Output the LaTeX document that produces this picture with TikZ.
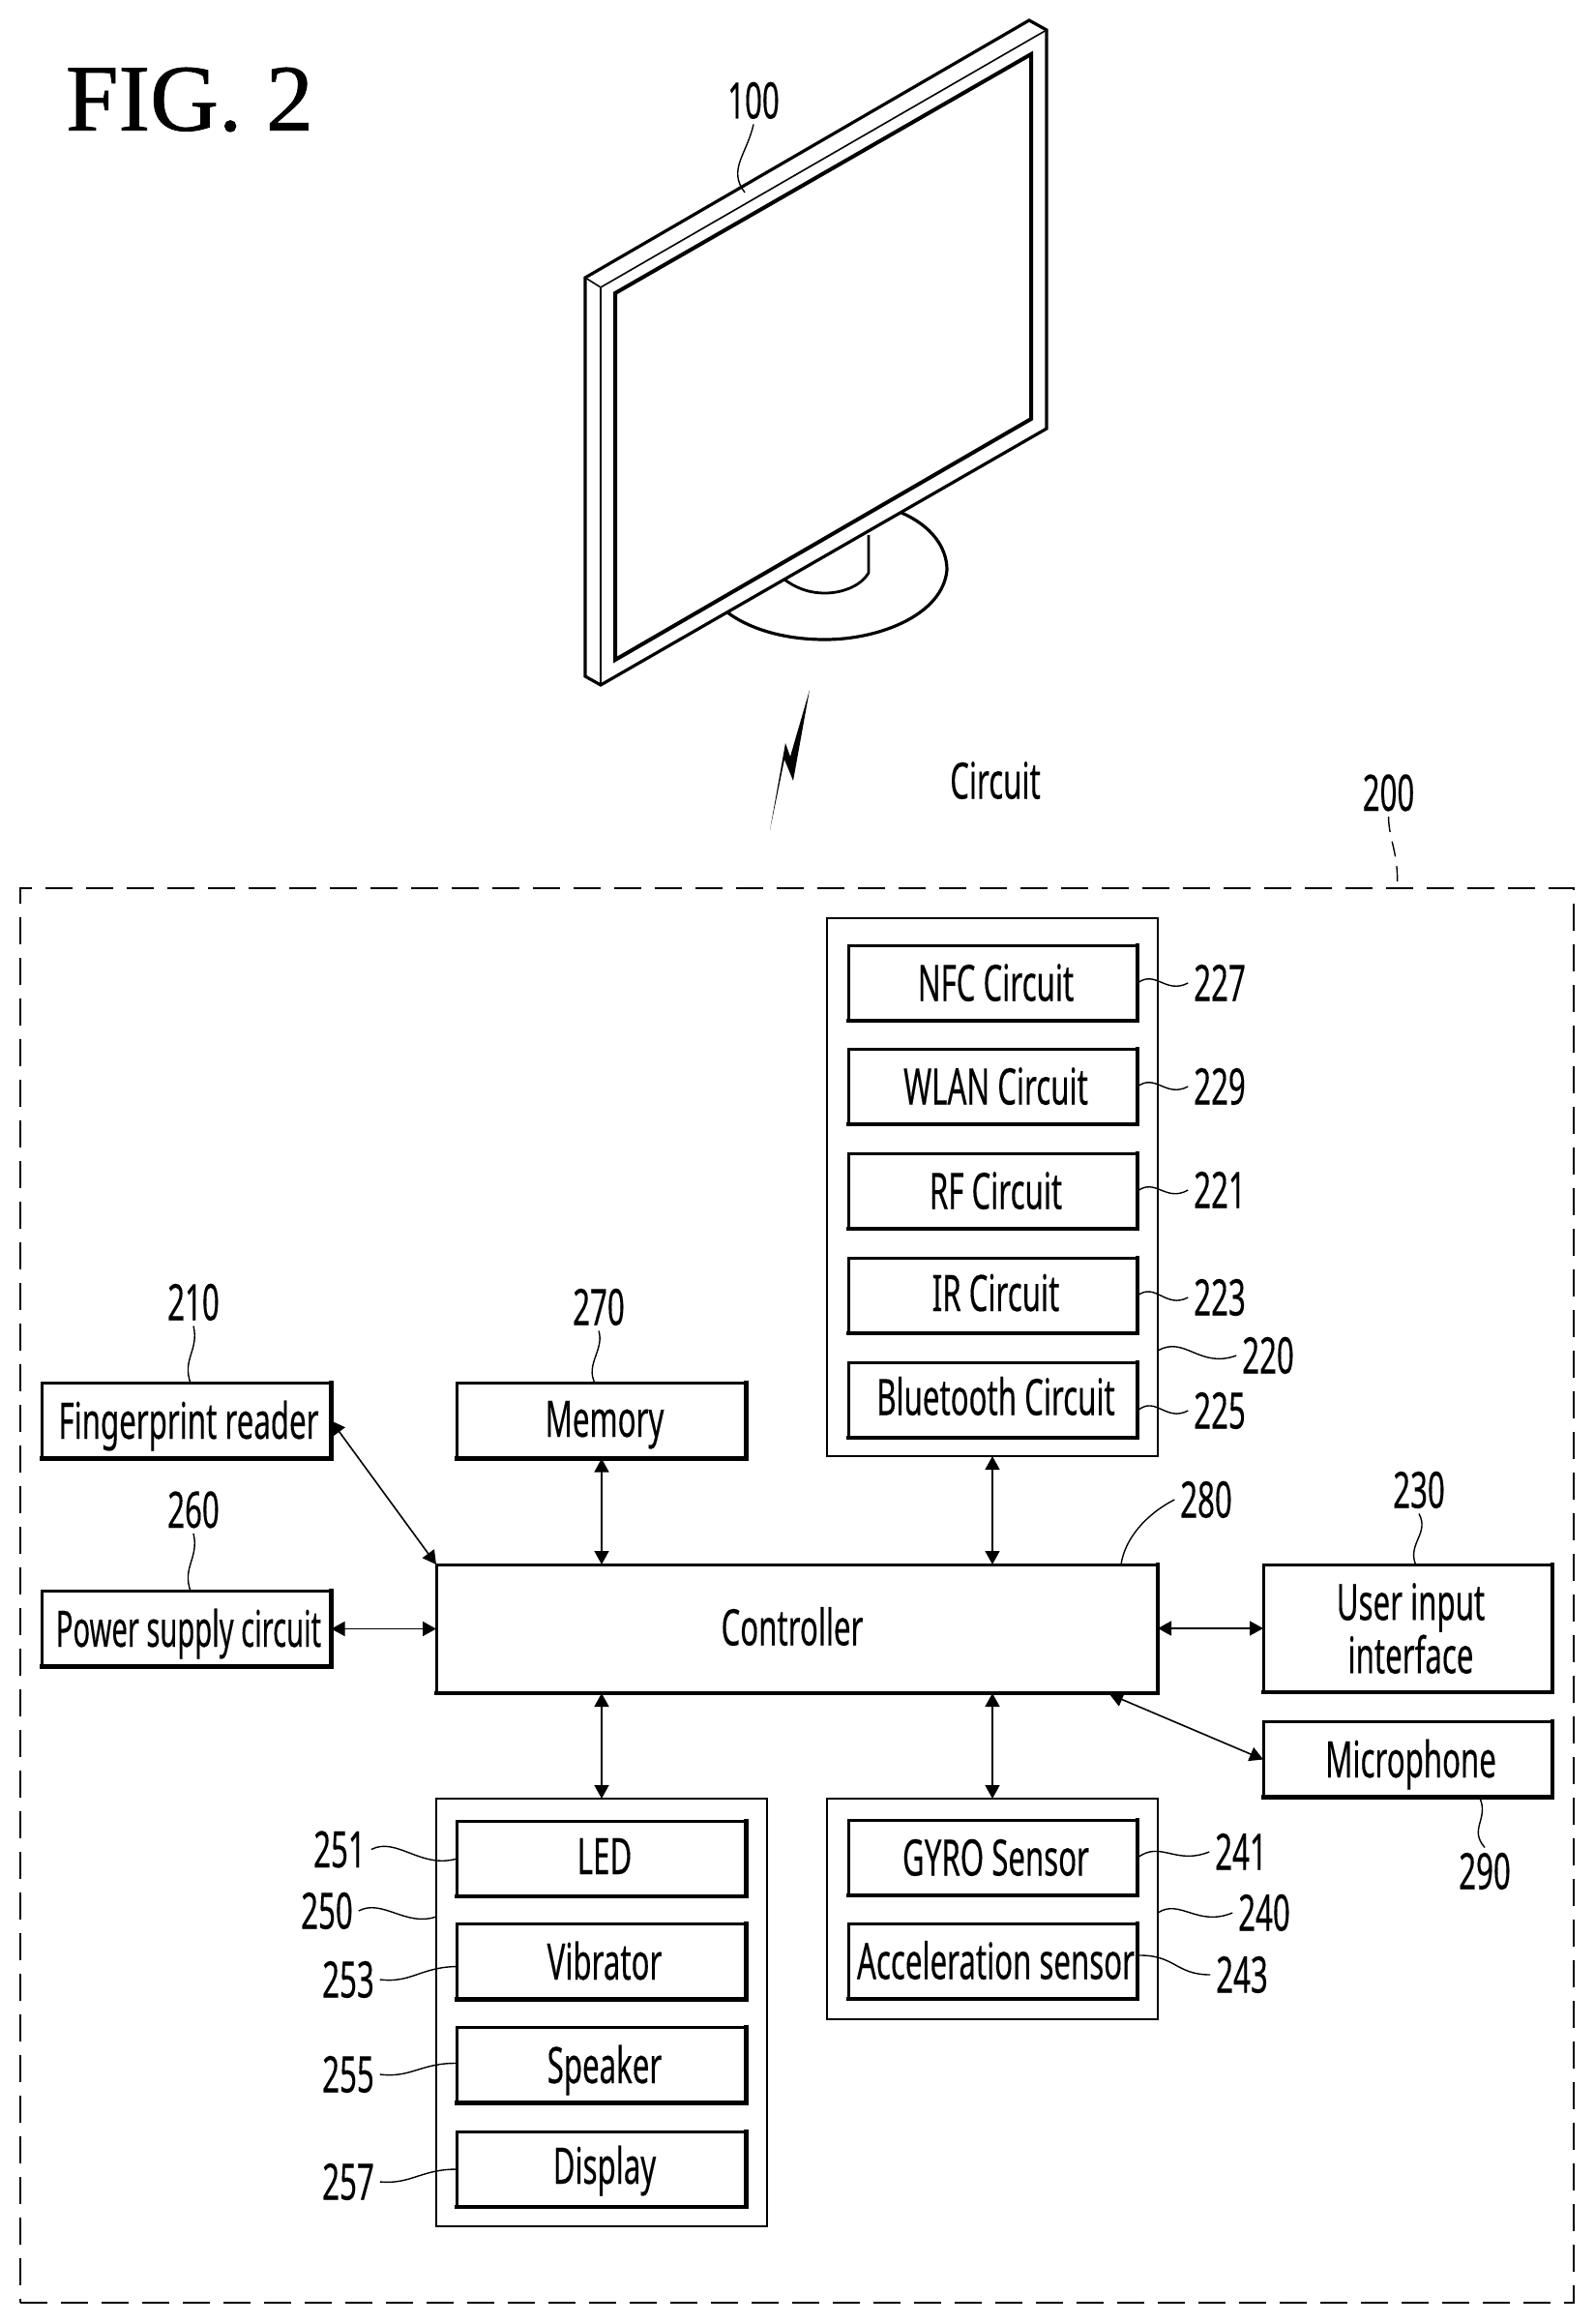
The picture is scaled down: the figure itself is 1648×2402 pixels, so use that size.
\documentclass[tikz,border=0pt]{standalone}
\usepackage{fontspec}
\setmainfont[FakeStretch=0.6,FakeBold=0.25]{Noto Sans}
\newfontfamily\narrowf[FakeStretch=0.56,FakeBold=0.25]{Noto Sans}
\newfontfamily\figfont[FakeBold=0.8]{Liberation Serif}
\usetikzlibrary{arrows.meta,calc}
\tikzset{
  base/.style={font=\fontsize{26}{27.5}\selectfont, outer sep=0pt, inner sep=0pt},
  oneline/.style={text height=18.5pt, text depth=0pt},
  blk/.style={base, draw, line width=1.5pt,
    minimum width=149.5pt, minimum height=39pt,
    append after command={\pgfextra{\draw[line width=2.4pt, line cap=rect]
      (\tikzlastnode.south west) -- (\tikzlastnode.south east) -- (\tikzlastnode.north east);}}},
  grp/.style={base, draw, line width=.8pt},
  lab/.style={base, oneline, inner sep=3pt, xshift=.5pt, yshift=-.5pt},
  lead/.style={draw, line width=.7pt},
  bi/.style={draw, line width=.8pt, {Triangle[length=7pt,width=7.5pt]}-{Triangle[length=7pt,width=7.5pt]}},
  mon/.style={draw, line width=1.6pt, line join=miter, fill=white},
}
\newcommand{\tsh}{\hspace*{3pt}}
\begin{document}
\begin{tikzpicture}[x=0.5pt,y=-0.5pt]
\useasboundingbox[fill=white] (0,0) rectangle (1648,2402);

% title
\node[inner sep=0pt, outer sep=0pt, font=\figfont\fontsize{49}{49}\selectfont] (fig) at (196,103) {FIG. 2};

% monitor stand
\draw[line width=1.6pt] (932,530) .. controls (962,543) and (979,565) .. (979,589)
   .. controls (975,635) and (910,661) .. (853,661)
   .. controls (810,661) and (775,650) .. (752,633);
\draw[line width=1.4pt] (898,553) -- (898,592) .. controls (890,606) and (870,613) .. (853,613)
   .. controls (835,613) and (822,607) .. (811,599);
% monitor body
\draw[mon] (605,287) -- (1064,21) -- (1082,31) -- (1082,443) -- (621,708) -- (605,699) -- cycle;
\draw[line width=.8pt] (605,287) -- (621,297) -- (1082,31);
\draw[line width=.8pt] (621,297) -- (621,708);
\draw[line width=2pt, fill=white] (636,303) -- (1066,56) -- (1066,433) -- (636,682) -- cycle;

% wireless
\fill (837,713) -- (820,807) -- (811,785) -- (796,858) -- (812,768) -- (817,782) -- cycle;

\node[lab] (circ) at (1028,806) {Circuit};

% device outline
\node[base, draw, dash pattern=on 14pt off 7pt, line width=.8pt, minimum width=803pt, minimum height=731pt] (outer) at (824,1649) {};

% groups
\node[grp, minimum width=171pt, minimum height=278pt] (comm) at (1026,1227) {};
\node[grp, minimum width=171pt, minimum height=114pt] (sens) at (1026,1973) {};
\node[grp, minimum width=171pt, minimum height=221pt] (outp) at (622,2080) {};

% blocks
\node[blk, oneline] (fp) at (193,1468.5) {\hspace*{2pt}Fingerprint reader};
\node[blk, oneline, text depth=2pt] (mem) at (622,1468.5) {\tsh Memory};
\node[blk, oneline] (pow) at (193,1683.5) {\hspace*{2pt}\narrowf Power supply circuit};
\node[blk, oneline, text depth=1.5pt, minimum width=373pt, minimum height=66.5pt] (ctrl) at (824,1683.5) {Controller\hspace*{5pt}\null};
\node[blk, minimum height=66pt, align=center] (user) at (1455.5,1683) {\tsh User input\\\tsh interface};
\node[blk, oneline] (mic) at (1455.5,1818.5) {\tsh Microphone};

\node[blk, oneline] (nfc) at (1026.5,1016) {\tsh NFC Circuit};
\node[blk, oneline] (wlan) at (1026.5,1123) {\tsh WLAN Circuit};
\node[blk, oneline] (rf) at (1026.5,1231) {\tsh RF Circuit};
\node[blk, oneline, text depth=2.5pt] (ir) at (1026.5,1339) {\tsh IR Circuit};
\node[blk, oneline, text depth=3pt] (bt) at (1026.5,1447) {\tsh Bluetooth Circuit};

\node[blk, oneline] (gyro) at (1026.5,1920) {\tsh GYRO Sensor};
\node[blk, oneline] (acc) at (1026.5,2027) {\tsh Acceleration sensor};

\node[blk, oneline, text depth=2.5pt] (led) at (622,1921) {\tsh LED};
\node[blk, oneline] (vib) at (622,2027.5) {\tsh Vibrator};
\node[blk, oneline] (spk) at (622,2134.5) {\tsh Speaker};
\node[blk, oneline, text depth=3.5pt] (disp) at (622,2242) {\tsh Display};

% arrows
\draw[bi] (fp.east) -- (ctrl.north west);
\draw[bi] (mem.south) -- (mem.south |- ctrl.north);
\draw[bi] (pow.east) -- (pow.east -| ctrl.west);
\draw[bi] (comm.south) -- (comm.south |- ctrl.north);
\draw[bi] (ctrl.east |- user.west) -- (user.west);
\draw[bi] (outp.north) -- (outp.north |- ctrl.south);
\draw[bi] (sens.north) -- (sens.north |- ctrl.south);
\coordinate (micend) at (1147,1751);
\draw[bi] (micend) -- (mic.west);

% reference labels
\node[lab] (l100) at (778,103) {100};
\node[lab] (l200) at (1434.5,818.5) {200};
\node[lab] (l210) at (199,1345) {210};
\node[lab] (l260) at (199,1559.5) {260};
\node[lab] (l270) at (618,1350) {270};
\node[lab] (l280) at (1246,1549) {280};
\node[lab] (l230) at (1466,1539) {230};
\node[lab] (l290) at (1534,1933) {290};
\node[lab] (l227) at (1260,1015) {227};
\node[lab] (l229) at (1260,1122) {229};
\node[lab] (l221) at (1260,1229) {221};
\node[lab] (l223) at (1260,1340) {223};
\node[lab] (l220) at (1310,1400) {220};
\node[lab] (l225) at (1260,1457) {225};
\node[lab] (l241) at (1282,1913) {241};
\node[lab] (l240) at (1306,1976) {240};
\node[lab] (l243) at (1283,2040) {243};
\node[lab] (l251) at (350,1910.5) {251};
\node[lab] (l250) at (337,1974) {250};
\node[lab] (l253) at (359,2045) {253};
\node[lab] (l255) at (359,2143) {255};
\node[lab] (l257) at (359,2254) {257};

% leaders
\coordinate (m100) at (770,199);
\draw[lead] (l100.south) .. controls (772,160) and (752,175) .. (m100);
\draw[lead, dash pattern=on 8pt off 5pt] (l200.south) .. controls (1436,870) and (1446,880) .. ([xshift=4.5pt]outer.north -| l200.south);
\draw[lead] (l210.south) .. controls (206,1395) and (188,1405) .. ([xshift=2pt]fp.north);
\draw[lead] (l260.south) .. controls (206,1610) and (188,1620) .. ([xshift=2pt]pow.north);
\draw[lead] (l270.south) .. controls (625,1395) and (605,1410) .. ([xshift=-3.5pt]mem.north);
\draw[lead] (l280.west) .. controls (1185,1565) and (1163,1590) .. ([xshift=-19pt]ctrl.north east);
\draw[lead] (l230.south) .. controls (1478,1585) and (1455,1595) .. ([xshift=4pt]user.north);
\draw[lead] ([xshift=37pt]mic.south) .. controls (1540,1880) and (1518,1890) .. (l290.north);
\draw[lead] (nfc.east) .. controls (1195,1002) and (1205,1028) .. (l227.west);
\draw[lead] (wlan.east) .. controls (1195,1109) and (1205,1135) .. (l229.west);
\draw[lead] (rf.east) .. controls (1195,1217) and (1205,1243) .. (l221.west);
\draw[lead] (ir.east) .. controls (1195,1325) and (1205,1353) .. (l223.west);
\draw[lead] ([yshift=2.5pt]comm.east |- l220.west) .. controls (1225,1380) and (1240,1415) .. (l220.west);
\draw[lead] (bt.east |- l225.west) .. controls (1195,1442) and (1205,1470) .. (l225.west);
\draw[lead] (gyro.east) .. controls (1200,1902) and (1215,1928) .. (l241.west);
\draw[lead] (sens.east |- l240.west) .. controls (1220,1962) and (1238,1992) .. (l240.west);
\draw[lead] ([yshift=3pt]acc.east) .. controls (1215,2020) and (1215,2041) .. (l243.west);
\draw[lead] (l251.east) .. controls (410,1898) and (435,1932) .. (led.west);
\draw[lead] (l250.east) .. controls (395,1962) and (420,1992) .. ([yshift=-3pt]outp.west |- l250.east);
\draw[lead] (l253.east) .. controls (425,2050) and (435,2033) .. ([yshift=-2.5pt]vib.west);
\draw[lead] (l255.east) .. controls (425,2148) and (435,2132) .. ([yshift=1pt]spk.west);
\draw[lead] (l257.east) .. controls (425,2258) and (435,2242) .. (disp.west);
\end{tikzpicture}
\end{document}
